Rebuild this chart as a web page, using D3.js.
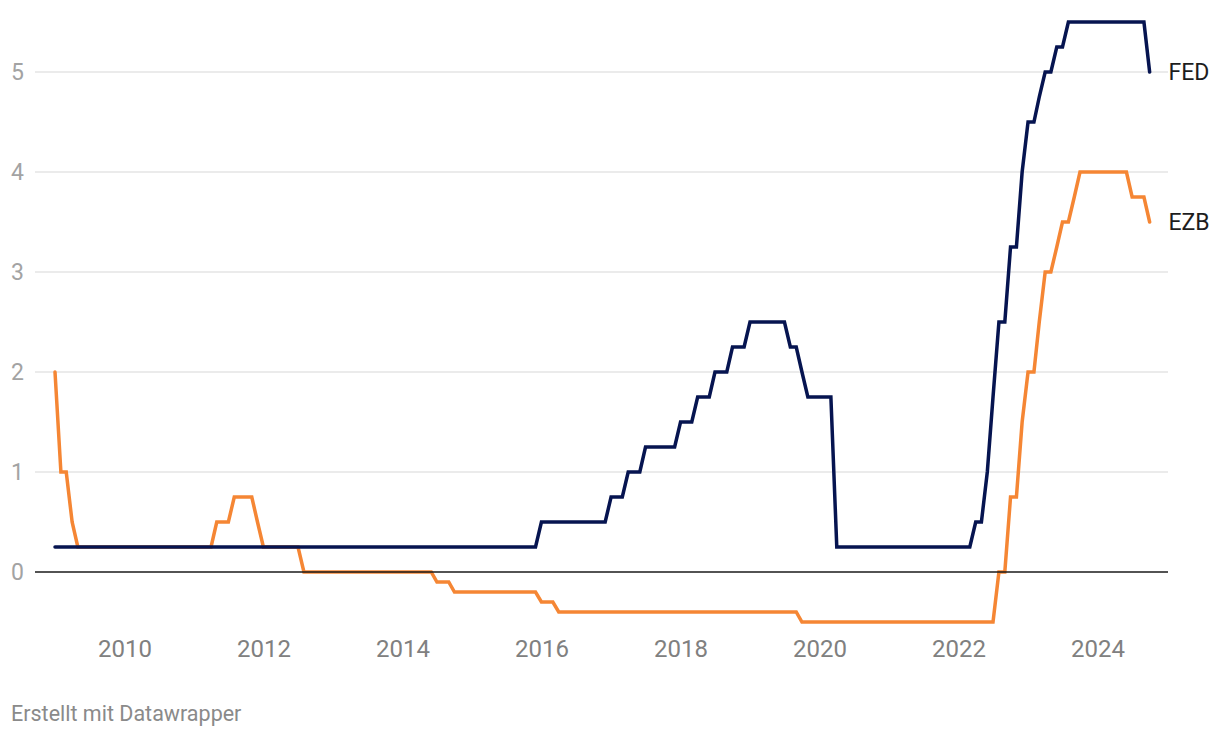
<!DOCTYPE html>
<html>
<head>
<meta charset="utf-8">
<script src="https://cdn.jsdelivr.net/npm/d3@7"></script>
<style>
  html, body { margin: 0; padding: 0; background: #fff; }
  svg { display: block; font-family: Roboto, "Noto Sans", sans-serif; }
</style>
</head>
<body>
<svg id="chart" width="1220" height="738"></svg>
<script>
// Monthly observations, first day of each month, Jan 2009 – Oct 2024
const firstMonth = new Date(2009, 0, 1);
const lastMonth = new Date(2024, 9, 1);

// FED (upper bound), %
const fed = [
  0.25,0.25,0.25,0.25,0.25,0.25,0.25,0.25,0.25,0.25,0.25,0.25, // 2009
  0.25,0.25,0.25,0.25,0.25,0.25,0.25,0.25,0.25,0.25,0.25,0.25, // 2010
  0.25,0.25,0.25,0.25,0.25,0.25,0.25,0.25,0.25,0.25,0.25,0.25, // 2011
  0.25,0.25,0.25,0.25,0.25,0.25,0.25,0.25,0.25,0.25,0.25,0.25, // 2012
  0.25,0.25,0.25,0.25,0.25,0.25,0.25,0.25,0.25,0.25,0.25,0.25, // 2013
  0.25,0.25,0.25,0.25,0.25,0.25,0.25,0.25,0.25,0.25,0.25,0.25, // 2014
  0.25,0.25,0.25,0.25,0.25,0.25,0.25,0.25,0.25,0.25,0.25,0.25, // 2015
  0.5,0.5,0.5,0.5,0.5,0.5,0.5,0.5,0.5,0.5,0.5,0.5,             // 2016
  0.75,0.75,0.75,1.0,1.0,1.0,1.25,1.25,1.25,1.25,1.25,1.25,    // 2017
  1.5,1.5,1.5,1.75,1.75,1.75,2.0,2.0,2.0,2.25,2.25,2.25,       // 2018
  2.5,2.5,2.5,2.5,2.5,2.5,2.5,2.25,2.25,2.0,1.75,1.75,         // 2019
  1.75,1.75,1.75,0.25,0.25,0.25,0.25,0.25,0.25,0.25,0.25,0.25, // 2020
  0.25,0.25,0.25,0.25,0.25,0.25,0.25,0.25,0.25,0.25,0.25,0.25, // 2021
  0.25,0.25,0.25,0.5,0.5,1.0,1.75,2.5,2.5,3.25,3.25,4.0,       // 2022
  4.5,4.5,4.75,5.0,5.0,5.25,5.25,5.5,5.5,5.5,5.5,5.5,          // 2023
  5.5,5.5,5.5,5.5,5.5,5.5,5.5,5.5,5.5,5.0                      // 2024
];

// EZB (deposit rate), %
const ezb = [
  2.0,1.0,1.0,0.5,0.25,0.25,0.25,0.25,0.25,0.25,0.25,0.25,     // 2009
  0.25,0.25,0.25,0.25,0.25,0.25,0.25,0.25,0.25,0.25,0.25,0.25, // 2010
  0.25,0.25,0.25,0.25,0.5,0.5,0.5,0.75,0.75,0.75,0.75,0.5,     // 2011
  0.25,0.25,0.25,0.25,0.25,0.25,0.25,0,0,0,0,0,                // 2012
  0,0,0,0,0,0,0,0,0,0,0,0,                                     // 2013
  0,0,0,0,0,0,-0.1,-0.1,-0.1,-0.2,-0.2,-0.2,                   // 2014
  -0.2,-0.2,-0.2,-0.2,-0.2,-0.2,-0.2,-0.2,-0.2,-0.2,-0.2,-0.2, // 2015
  -0.3,-0.3,-0.3,-0.4,-0.4,-0.4,-0.4,-0.4,-0.4,-0.4,-0.4,-0.4, // 2016
  -0.4,-0.4,-0.4,-0.4,-0.4,-0.4,-0.4,-0.4,-0.4,-0.4,-0.4,-0.4, // 2017
  -0.4,-0.4,-0.4,-0.4,-0.4,-0.4,-0.4,-0.4,-0.4,-0.4,-0.4,-0.4, // 2018
  -0.4,-0.4,-0.4,-0.4,-0.4,-0.4,-0.4,-0.4,-0.4,-0.5,-0.5,-0.5, // 2019
  -0.5,-0.5,-0.5,-0.5,-0.5,-0.5,-0.5,-0.5,-0.5,-0.5,-0.5,-0.5, // 2020
  -0.5,-0.5,-0.5,-0.5,-0.5,-0.5,-0.5,-0.5,-0.5,-0.5,-0.5,-0.5, // 2021
  -0.5,-0.5,-0.5,-0.5,-0.5,-0.5,-0.5,0,0,0.75,0.75,1.5,        // 2022
  2.0,2.0,2.5,3.0,3.0,3.25,3.5,3.5,3.75,4.0,4.0,4.0,           // 2023
  4.0,4.0,4.0,4.0,4.0,4.0,3.75,3.75,3.75,3.5                   // 2024
];

const seriesNames = ["EZB", "FED"];
const yTicks = [0, 1, 2, 3, 4, 5];
const xTickYears = [2010, 2012, 2014, 2016, 2018, 2020, 2022, 2024];
const footerText = "Erstellt mit Datawrapper";

const colors = { FED: "#061450", EZB: "#f58634" };

const months = d3.timeMonth.range(firstMonth, d3.timeMonth.offset(lastMonth, 1));
const seriesValues = { FED: fed, EZB: ezb };

const svg = d3.select("#chart");

const x = d3.scaleTime()
  .domain([new Date(2009, 0, 1), new Date(2024, 0, 1)])
  .range([55, 1097.5]);
const y = d3.scaleLinear()
  .domain([0, 5])
  .range([572, 72]);

const gridLeft = 35, gridRight = 1168;

// gridlines
svg.append("g").selectAll("line")
  .data(yTicks.filter(d => d !== 0))
  .join("line")
  .attr("x1", gridLeft).attr("x2", gridRight)
  .attr("y1", d => y(d)).attr("y2", d => y(d))
  .attr("stroke", "#e4e4e4").attr("stroke-width", 1.5);

// y labels
svg.append("g").selectAll("text")
  .data(yTicks)
  .join("text")
  .attr("x", 11)
  .attr("y", d => y(d))
  .attr("dy", "0.35em")
  .attr("font-size", 23)
  .attr("fill", "#a3a3a3")
  .text(d => d);

// x axis labels
const xAxis = d3.axisBottom(x)
  .tickValues(xTickYears.map(yr => new Date(yr, 0, 1)))
  .tickFormat(d3.timeFormat("%Y"))
  .tickSize(0);
const gx = svg.append("g")
  .attr("transform", "translate(0,639.5)")
  .call(xAxis);
gx.select(".domain").remove();
gx.selectAll("text")
  .attr("font-size", 24)
  .attr("font-family", "Roboto, sans-serif")
  .attr("fill", "#808080")
  .attr("dy", "0.71em")
  .attr("y", 0);

// lines
const line = d3.line()
  .x((d, i) => x(months[i]))
  .y(d => y(d));

seriesNames.forEach(name => {
  svg.append("path")
    .datum(seriesValues[name])
    .attr("fill", "none")
    .attr("stroke", colors[name])
    .attr("stroke-width", 3.5)
    .attr("stroke-linejoin", "miter")
    .attr("stroke-linecap", "round")
    .attr("d", line);
});

// zero baseline
svg.append("line")
  .attr("x1", gridLeft).attr("x2", gridRight)
  .attr("y1", y(0)).attr("y2", y(0))
  .attr("stroke", "#1a1a1a").attr("stroke-width", 1.5);

// series labels at the end
seriesNames.forEach(name => {
  const vals = seriesValues[name];
  svg.append("text")
    .attr("x", 1168.5)
    .attr("y", y(vals[vals.length - 1]))
    .attr("dy", "0.35em")
    .attr("font-size", 23)
    .attr("fill", "#1d1d1d")
    .text(name);
});

// footer
svg.append("text")
  .attr("x", 11)
  .attr("y", 721)
  .attr("font-size", 21.5)
  .attr("fill", "#8a8a8a")
  .text(footerText);
</script>
</body>
</html>
